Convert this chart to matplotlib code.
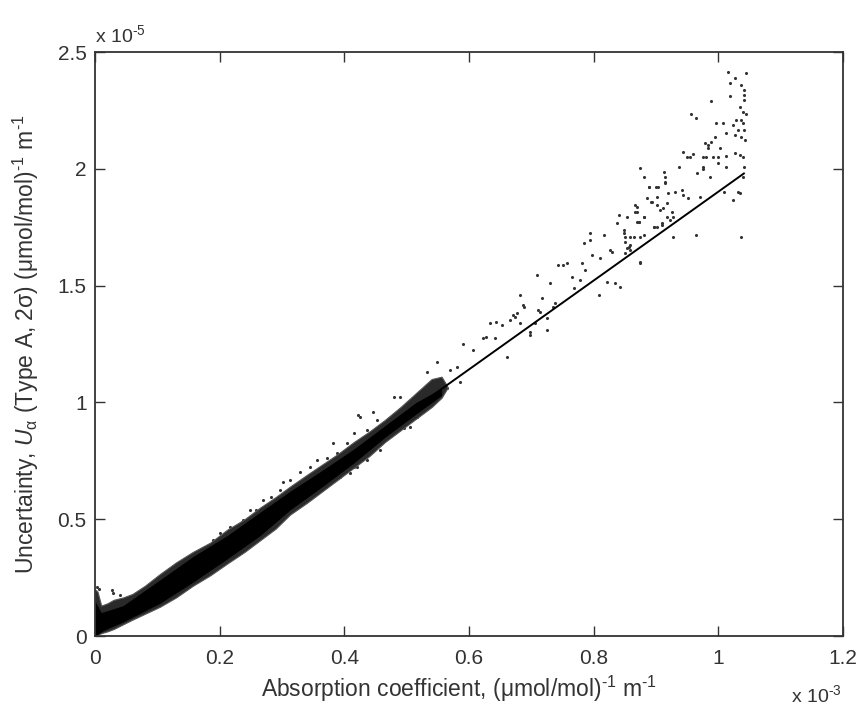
import matplotlib
matplotlib.use("Agg")
import matplotlib.pyplot as plt

plt.rcParams['font.family'] = ['Liberation Sans', 'DejaVu Sans']
plt.rcParams['mathtext.fontset'] = 'custom'
plt.rcParams['mathtext.rm'] = 'Liberation Sans'
plt.rcParams['mathtext.it'] = 'Liberation Sans:italic'
plt.rcParams['mathtext.default'] = 'regular'

# values: x in units of 1e-3, y in units of 1e-5
# dense band of points (outline)
band_x = [0.0, 0.004, 0.010, 0.020, 0.030, 0.045, 0.060, 0.080, 0.104, 0.130,
          0.157, 0.185, 0.212, 0.240, 0.265, 0.290, 0.313, 0.340, 0.365, 0.390,
          0.415, 0.440, 0.465, 0.490, 0.515, 0.540, 0.556, 0.565]
band_hi = [0.20, 0.19, 0.13, 0.14, 0.155, 0.165, 0.18, 0.215, 0.265, 0.315,
           0.36, 0.40, 0.455, 0.50, 0.55, 0.595, 0.64, 0.69, 0.735, 0.78,
           0.83, 0.875, 0.925, 0.98, 1.04, 1.10, 1.11, 1.07]
band_lo = [0.0, 0.005, 0.012, 0.02, 0.03, 0.05, 0.07, 0.095, 0.125, 0.165,
           0.215, 0.26, 0.31, 0.36, 0.41, 0.46, 0.52, 0.57, 0.62, 0.67,
           0.72, 0.77, 0.83, 0.88, 0.93, 0.98, 1.02, 1.06]
# darker core of the band
core_x = [0.0, 0.010, 0.045, 0.104, 0.157, 0.212, 0.265, 0.313, 0.365, 0.415,
          0.465, 0.515, 0.556]
core_hi = [0.15, 0.10, 0.13, 0.24, 0.34, 0.43, 0.53, 0.62, 0.71, 0.80,
           0.90, 1.00, 1.06]
core_lo = [0.0, 0.02, 0.06, 0.14, 0.23, 0.33, 0.43, 0.54, 0.64, 0.74,
           0.85, 0.95, 1.03]

# individual points
pts_x = [0.027, 0.029, 0.040, 0.045, 0.003, 0.006,
         0.422, 0.446, 0.452, 0.436, 0.415, 0.404, 0.382, 0.388, 0.372, 0.356, 0.345,
         0.329, 0.313, 0.302, 0.297, 0.283, 0.270, 0.259, 0.249, 0.238, 0.217, 0.200,
         0.190, 0.179,
         0.457, 0.436, 0.420, 0.409, 0.393, 0.372, 0.356, 0.329, 0.313, 0.291, 0.275,
         0.259, 0.238, 0.222, 0.200,
         0.591, 0.607, 0.623, 0.634, 0.644, 0.653, 0.661, 0.666, 0.671, 0.677, 0.682,
         0.687, 0.698, 0.706, 0.714, 0.725, 0.725, 0.735, 0.586, 0.580, 0.570, 0.564,
         0.548, 0.532, 0.489, 0.479, 0.516, 0.505, 0.495, 0.473, 0.425, 0.415, 0.431,
         0.447, 0.463,
         0.628, 0.642, 0.674, 0.682, 0.688, 0.698, 0.709, 0.711, 0.717, 0.730, 0.738,
         0.743, 0.751, 0.757, 0.765, 0.768, 0.778, 0.781, 0.786, 0.784, 0.794, 0.794,
         0.797, 0.808, 0.810, 0.816, 0.821, 0.826, 0.829, 0.834, 0.837, 0.840, 0.842,
         0.848, 0.850, 0.853, 0.858, 0.864, 0.866, 0.869, 0.869, 0.872, 0.874, 0.880,
         0.880, 0.888, 0.893, 0.896, 0.901, 0.904, 0.907, 0.909, 0.915, 0.917, 0.917,
         1.016, 1.044, 1.027, 1.019, 1.037, 1.041, 1.041, 0.989, 1.019, 1.041, 1.034,
         1.040, 1.044, 0.956, 0.964, 0.997, 1.008, 1.029, 1.036, 1.024, 1.040, 1.032,
         1.041, 1.013, 1.027, 1.037, 1.043, 0.995, 0.979, 0.984, 0.989, 0.983, 1.003,
         0.975, 0.980, 0.992, 0.999, 1.013, 0.944, 0.949, 0.955, 0.959, 1.027, 1.035,
         1.040, 1.000, 1.013, 0.937, 0.975, 0.976, 0.875, 0.881, 0.913, 0.915, 0.987,
         0.965, 1.041, 1.040, 1.035, 1.031, 1.024, 1.009, 0.889, 0.900, 0.915, 0.920,
         0.931, 0.941, 0.944, 0.952, 0.971, 0.901, 0.892, 0.902, 0.912, 0.885, 0.869,
         0.866, 0.872, 0.881, 0.896, 0.909, 0.925, 0.928, 0.923, 0.853, 0.848, 0.850,
         0.858, 0.874, 0.928, 0.964, 1.036, 0.875, 0.856, 0.858, 0.851]
pts_y = [0.197, 0.183, 0.176, 0.147, 0.21, 0.20,
         0.946, 0.960, 0.925, 0.882, 0.868, 0.825, 0.825, 0.782, 0.761, 0.754, 0.725,
         0.703, 0.668, 0.660, 0.625, 0.597, 0.582, 0.540, 0.540, 0.497, 0.468, 0.439,
         0.411, 0.375,
         0.796, 0.754, 0.725, 0.697, 0.682, 0.654, 0.611, 0.582, 0.554, 0.511, 0.468,
         0.439, 0.411, 0.382, 0.339,
         1.249, 1.224, 1.274, 1.339, 1.345, 1.331, 1.196, 1.353, 1.374, 1.381, 1.339,
         1.417, 1.303, 1.339, 1.388, 1.360, 1.310, 1.410, 1.089, 1.153, 1.139, 1.060,
         1.174, 1.131, 1.025, 1.025, 0.939, 0.896, 0.889, 0.875, 0.939, 0.725, 0.824,
         0.839, 0.853,
         1.281, 1.274, 1.367, 1.460, 1.410, 1.288, 1.545, 1.395, 1.445, 1.509, 1.424,
         1.588, 1.588, 1.595, 1.538, 1.488, 1.524, 1.595, 1.567, 1.681, 1.724, 1.695,
         1.631, 1.460, 1.617, 1.717, 1.517, 1.652, 1.645, 1.509, 1.767, 1.802, 1.495,
         1.724, 1.688, 1.660, 1.674, 1.710, 1.845, 1.817, 1.774, 1.774, 1.602, 1.717,
         1.795, 1.924, 1.860, 1.752, 1.752, 1.924, 1.824, 1.759, 1.945, 1.852, 1.795,
         2.416, 2.409, 2.387, 2.366, 2.359, 2.338, 2.316, 2.290, 2.312, 2.295, 2.266,
         2.245, 2.235, 2.233, 2.216, 2.195, 2.195, 2.209, 2.209, 2.188, 2.195, 2.166,
         2.166, 2.152, 2.145, 2.138, 2.124, 2.138, 2.109, 2.102, 2.116, 2.088, 2.088,
         2.052, 2.049, 2.052, 2.049, 2.055, 2.073, 2.052, 2.052, 2.062, 2.066, 2.059,
         2.052, 2.023, 2.009, 2.009, 2.009, 1.998, 2.002, 1.966, 1.988, 1.966, 1.966,
         1.981, 2.009, 1.966, 1.895, 1.902, 1.867, 1.902, 1.924, 1.924, 1.941, 1.895,
         1.902, 1.909, 1.888, 1.874, 1.881, 1.881, 1.860, 1.845, 1.831, 1.874, 1.838,
         1.817, 1.774, 1.795, 1.752, 1.767, 1.817, 1.795, 1.781, 1.795, 1.738, 1.710,
         1.710, 1.710, 1.707, 1.717, 1.707, 1.595, 1.667, 1.652, 1.638]

# fitted line
line_x = [0.0, 1.041]
line_y = [0.0, 1.98]

x_ticks = [0, 0.2, 0.4, 0.6, 0.8, 1.0, 1.2]
x_ticklabels = ['0', '0.2', '0.4', '0.6', '0.8', '1', '1.2']
y_ticks = [0, 0.5, 1.0, 1.5, 2.0, 2.5]
y_ticklabels = ['0', '0.5', '1', '1.5', '2', '2.5']

TXT = '#333333'
HY = '\u2010'

fig = plt.figure(figsize=(8.6, 7.12), dpi=100)
ax = fig.add_axes([95/860, 1 - 636/712, (843-95)/860, (636-52)/712])

ax.scatter(pts_x, pts_y, s=5, color='#333333', linewidths=0, zorder=1)
ax.fill_between(band_x, band_lo, band_hi, color='#2a2a2a', linewidth=0.8,
                edgecolor='#555555', zorder=2)
ax.fill_between(core_x, core_lo, core_hi, color='black', linewidth=0, zorder=3)
ax.plot(line_x, line_y, color='black', lw=1.4, zorder=4)

ax.set_xlim(0, 1.2)
ax.set_ylim(0, 2.5)
ax.set_xticks(x_ticks)
ax.set_xticklabels(x_ticklabels)
ax.set_yticks(y_ticks)
ax.set_yticklabels(y_ticklabels)
ax.tick_params(direction='in', length=7, width=1.0, top=True, right=True,
               labelsize=15, colors=TXT, labelcolor=TXT)
ax.tick_params(axis='x', pad=9)
ax.tick_params(axis='y', pad=6)
for sp in ax.spines.values():
    sp.set_linewidth(1.3)
    sp.set_color(TXT)
    sp.set_zorder(5)

ax.set_xlabel('Absorption coefficient, (\u03bcmol/mol)$^{' + HY + '1}$ m$^{' + HY + '1}$',
              fontsize=16.5, color=TXT, labelpad=3)
ax.xaxis.set_label_coords(0.487, -0.065)
ax.set_ylabel('Uncertainty, $\\mathit{U}_{\\alpha}$ (Type A, 2\u03c3) (\u03bcmol/mol)$^{'
              + HY + '1}$ m$^{' + HY + '1}$',
              fontsize=16.5, color=TXT, labelpad=12)

fig.text(95/860, 1 - 42/712, 'x 10$^{' + HY + '5}$', fontsize=14, color=TXT,
         ha='left', va='baseline')
fig.text(842/860, 1 - 702/712, 'x 10$^{' + HY + '3}$', fontsize=14, color=TXT,
         ha='right', va='baseline')

fig.savefig('out.png', dpi=100)
